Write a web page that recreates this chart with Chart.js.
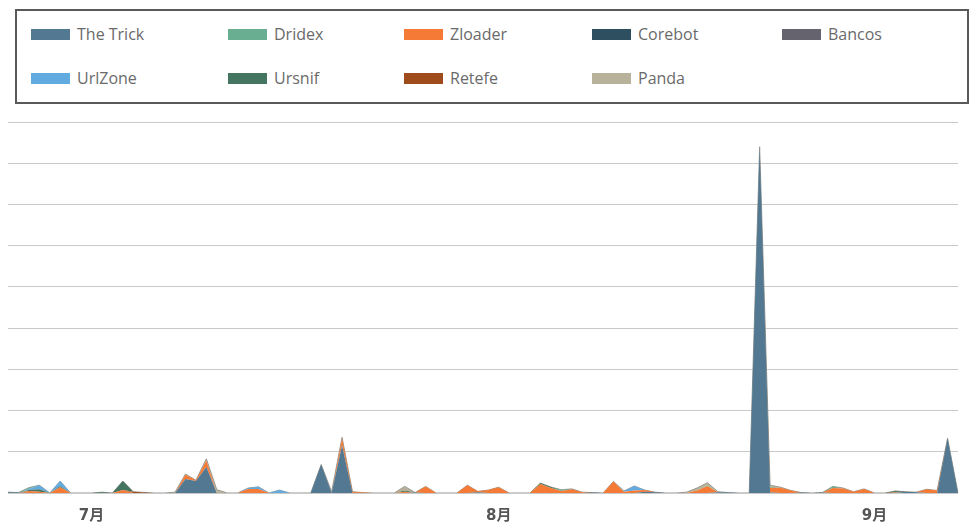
<!DOCTYPE html>
<html>
<head>
<meta charset="utf-8">
<script src="https://cdn.jsdelivr.net/npm/chart.js@4.4.1/dist/chart.umd.min.js"></script>
<style>
  html, body { margin: 0; padding: 0; background: #fff; overflow: hidden; }
  body { width: 973px; height: 525px; position: relative; font-family: 'Open Sans', sans-serif; }
  #legend {
    position: absolute; left: 15px; top: 9px; width: 954px; height: 95px;
    border: 2px solid #5a5a5a; box-sizing: border-box;
    display: grid; grid-template-columns: 197px 176px 188px 190px auto;
    grid-template-rows: 44px 44px; padding: 1px 0 0 14px;
  }
  #legend .item { display: flex; align-items: center; font-size: 16px; color: #6a6a6a; white-space: nowrap; }
  #legend .sw { width: 39px; height: 11px; margin-right: 7px; flex: none; }
  #chartBox { position: absolute; left: 0; top: 112px; width: 973px; height: 413px; }
</style>
</head>
<body>
<div id="legend"></div>
<div id="chartBox"><canvas id="c"></canvas></div>
<script>
// stacking order, bottom to top
const seriesNames  = ['The Trick', 'Zloader', 'Retefe', 'Corebot', 'Bancos', 'Ursnif', 'UrlZone', 'Dridex', 'Panda'];
const seriesColors = ['#527991', '#f47a35', '#a04b1b', '#2e4f60', '#65636d', '#437560', '#62abe0', '#6aae91', '#b7b299'];
// order the legend lists them in
const legendOrder  = ['The Trick', 'Dridex', 'Zloader', 'Corebot', 'Bancos', 'UrlZone', 'Ursnif', 'Retefe', 'Panda'];

const monthLabels = ['7月', '8月', '9月'];
const monthIndex  = [8, 47, 83];

const theTrick = [
  0.2, 0.1, 0, 0, 0, 0, 0, 0, 0, 0,
  0, 0, 0, 0, 0, 0, 0, 3.4, 2.9, 6.3,
  0, 0, 0, 0, 0, 0, 0, 0, 0, 0,
  6.9, 0, 11.6, 0, 0, 0, 0, 0, 0, 0.1,
  0, 0, 0, 0, 0, 0.2, 0, 0, 0, 0,
  0, 0, 0, 0, 0, 0, 0.1, 0, 0, 0,
  0, 0.3, 0.2, 0, 0, 0, 0, 0, 0.2, 0.1,
  0, 0, 84, 0.1, 0, 0, 0.1, 0, 0.1, 0,
  0, 0, 0, 0, 0, 0, 0.3, 0.2, 0, 0,
  13.3, 0
];
const zloader = [
  0, 0, 0.5, 0.3, 0, 1.4, 0, 0, 0, 0,
  0, 0.7, 0, 0, 0, 0, 0, 1.0, 0.2, 1.6,
  0, 0, 0, 1.0, 1.0, 0, 0, 0, 0, 0,
  0, 0, 1.6, 0.3, 0.1, 0, 0, 0, 0.3, 0,
  1.6, 0, 0, 0, 1.9, 0.2, 0.7, 1.4, 0, 0,
  0, 2.2, 1.2, 0.5, 0.9, 0.2, 0, 0, 2.8, 0.3,
  0.6, 0.4, 0, 0, 0, 0, 0.6, 1.7, 0, 0,
  0, 0, 0, 1.2, 1.3, 0.6, 0, 0, 0, 1.2,
  1.1, 0.3, 1.0, 0, 0, 0.1, 0, 0, 0.9, 0.6,
  0, 0
];
const retefe = [
  0, 0, 0, 0, 0, 0, 0, 0, 0, 0,
  0, 0, 0.3, 0.15, 0, 0, 0, 0, 0, 0,
  0, 0, 0, 0, 0, 0, 0, 0, 0, 0,
  0, 0, 0, 0, 0, 0, 0, 0, 0, 0,
  0, 0, 0, 0, 0, 0, 0, 0, 0, 0,
  0, 0, 0, 0, 0, 0, 0, 0, 0, 0,
  0, 0, 0, 0, 0, 0, 0, 0, 0, 0,
  0, 0, 0, 0, 0, 0, 0, 0, 0, 0,
  0, 0, 0, 0, 0, 0, 0, 0, 0, 0,
  0, 0
];
const corebot = [
  0, 0, 0, 0, 0, 0, 0, 0, 0, 0,
  0, 0, 0, 0, 0, 0, 0, 0, 0, 0,
  0, 0, 0, 0, 0, 0, 0, 0, 0, 0,
  0, 0, 0, 0, 0, 0, 0, 0, 0, 0,
  0, 0, 0, 0, 0, 0, 0, 0, 0, 0,
  0, 0, 0, 0, 0, 0, 0, 0, 0, 0,
  0, 0, 0, 0, 0, 0, 0, 0, 0, 0,
  0, 0, 0, 0, 0, 0, 0, 0, 0, 0,
  0, 0, 0, 0, 0, 0, 0, 0, 0, 0,
  0, 0
];
const bancos = [
  0, 0, 0, 0, 0, 0, 0, 0, 0, 0,
  0, 0, 0, 0, 0, 0, 0, 0, 0, 0,
  0, 0, 0, 0, 0, 0, 0, 0, 0, 0,
  0, 0, 0, 0, 0, 0, 0, 0, 0, 0,
  0, 0, 0, 0, 0, 0, 0, 0, 0, 0,
  0, 0, 0, 0, 0, 0, 0, 0, 0, 0,
  0, 0, 0, 0, 0, 0, 0, 0, 0, 0,
  0, 0, 0, 0, 0, 0, 0, 0, 0, 0,
  0, 0, 0, 0, 0, 0, 0, 0, 0, 0,
  0, 0
];
const ursnif = [
  0, 0, 0.2, 0.6, 0, 0.3, 0, 0, 0, 0.2,
  0, 2.2, 0, 0, 0, 0, 0, 0, 0, 0,
  0, 0, 0, 0, 0, 0, 0, 0, 0, 0,
  0, 0, 0, 0, 0, 0, 0, 0, 0.3, 0,
  0, 0, 0, 0, 0, 0, 0, 0, 0, 0,
  0, 0.2, 0.25, 0, 0.1, 0, 0, 0, 0, 0,
  0, 0, 0, 0, 0, 0, 0, 0, 0, 0,
  0, 0, 0, 0, 0, 0, 0, 0, 0, 0,
  0, 0, 0, 0, 0, 0.4, 0, 0, 0, 0,
  0, 0
];
const urlZone = [
  0, 0, 0.3, 1.0, 0, 1.2, 0, 0, 0, 0,
  0, 0, 0, 0, 0, 0, 0, 0, 0, 0,
  0, 0, 0, 0.2, 0.5, 0, 0.7, 0, 0, 0,
  0, 0, 0, 0, 0, 0, 0, 0, 0, 0,
  0, 0, 0, 0, 0, 0, 0, 0, 0, 0,
  0, 0, 0, 0, 0, 0, 0, 0, 0, 0.2,
  1.1, 0, 0, 0, 0, 0, 0, 0, 0, 0,
  0, 0, 0, 0, 0, 0, 0, 0, 0, 0,
  0, 0, 0, 0, 0, 0, 0, 0, 0, 0,
  0, 0
];
const dridex = [
  0, 0, 0.3, 0, 0, 0, 0, 0, 0, 0,
  0, 0, 0, 0, 0, 0, 0, 0, 0, 0,
  0, 0, 0, 0, 0, 0, 0, 0, 0, 0,
  0, 0, 0, 0, 0, 0, 0, 0, 0, 0,
  0, 0, 0, 0, 0, 0, 0, 0, 0, 0,
  0, 0, 0, 0.3, 0, 0, 0, 0, 0, 0,
  0, 0, 0, 0, 0, 0, 0, 0.2, 0, 0,
  0, 0, 0, 0.3, 0, 0, 0, 0, 0, 0.4,
  0, 0, 0, 0, 0, 0, 0, 0, 0, 0,
  0, 0
];
const panda = [
  0, 0, 0, 0, 0, 0, 0, 0, 0, 0,
  0, 0, 0, 0, 0, 0, 0.2, 0.2, 0, 0.4,
  0.8, 0, 0, 0, 0, 0, 0, 0, 0, 0,
  0, 0.3, 0.3, 0, 0, 0, 0, 0, 1.0, 0,
  0, 0, 0, 0, 0, 0, 0, 0, 0, 0,
  0, 0, 0, 0, 0, 0, 0, 0, 0, 0,
  0, 0, 0, 0, 0, 0.2, 0.6, 0.6, 0.1, 0,
  0, 0, 0, 0.3, 0.1, 0, 0, 0, 0, 0,
  0.1, 0, 0, 0, 0, 0, 0, 0, 0, 0,
  0, 0
];

const seriesData = [theTrick, zloader, retefe, corebot, bancos, ursnif, urlZone, dridex, panda];
const days = theTrick.map((_, i) => i);

const tickFont = { family: "'DejaVu Sans','Noto Sans CJK JP',sans-serif", size: 15, weight: 'bold' };

const datasets = seriesNames.map((name, i) => {
  const top = i === seriesNames.length - 1;
  return {
    label: name,
    data: seriesData[i],
    backgroundColor: seriesColors[i],
    borderColor: top ? '#9a9890' : seriesColors[i],
    borderWidth: top ? 1 : 0,
    fill: i === 0 ? 'origin' : '-1',
    pointRadius: 0,
    pointHoverRadius: 0,
    tension: 0
  };
});

const chart = new Chart(document.getElementById('c').getContext('2d'), {
  type: 'line',
  data: { labels: days, datasets },
  options: {
    responsive: true, maintainAspectRatio: false, animation: false,
    layout: { padding: { left: 8, right: 15, top: 10, bottom: 0 } },
    plugins: { legend: { display: false }, tooltip: { enabled: false } },
    scales: {
      x: {
        grid: { display: false }, border: { display: false },
        ticks: {
          autoSkip: false, maxRotation: 0, minRotation: 0, padding: 6, color: '#555', font: tickFont,
          callback: (v, i) => { const k = monthIndex.indexOf(i); return k >= 0 ? monthLabels[k] : ''; }
        },
        afterFit: s => { s.height = 32; }
      },
      y: {
        stacked: true, min: 0, max: 90,
        ticks: { display: false, stepSize: 10 },
        grid: { color: '#c9c9c9', lineWidth: 1, drawTicks: false },
        border: { display: false }
      }
    }
  }
});

// legend box, laid out as a grid in the given order
const legendEl = document.getElementById('legend');
legendOrder.forEach(name => {
  const ds = chart.data.datasets.find(d => d.label === name);
  const item = document.createElement('div');
  item.className = 'item';
  const sw = document.createElement('span');
  sw.className = 'sw';
  sw.style.background = ds.backgroundColor;
  item.appendChild(sw);
  item.appendChild(document.createTextNode(name));
  legendEl.appendChild(item);
});
</script>
</body>
</html>
